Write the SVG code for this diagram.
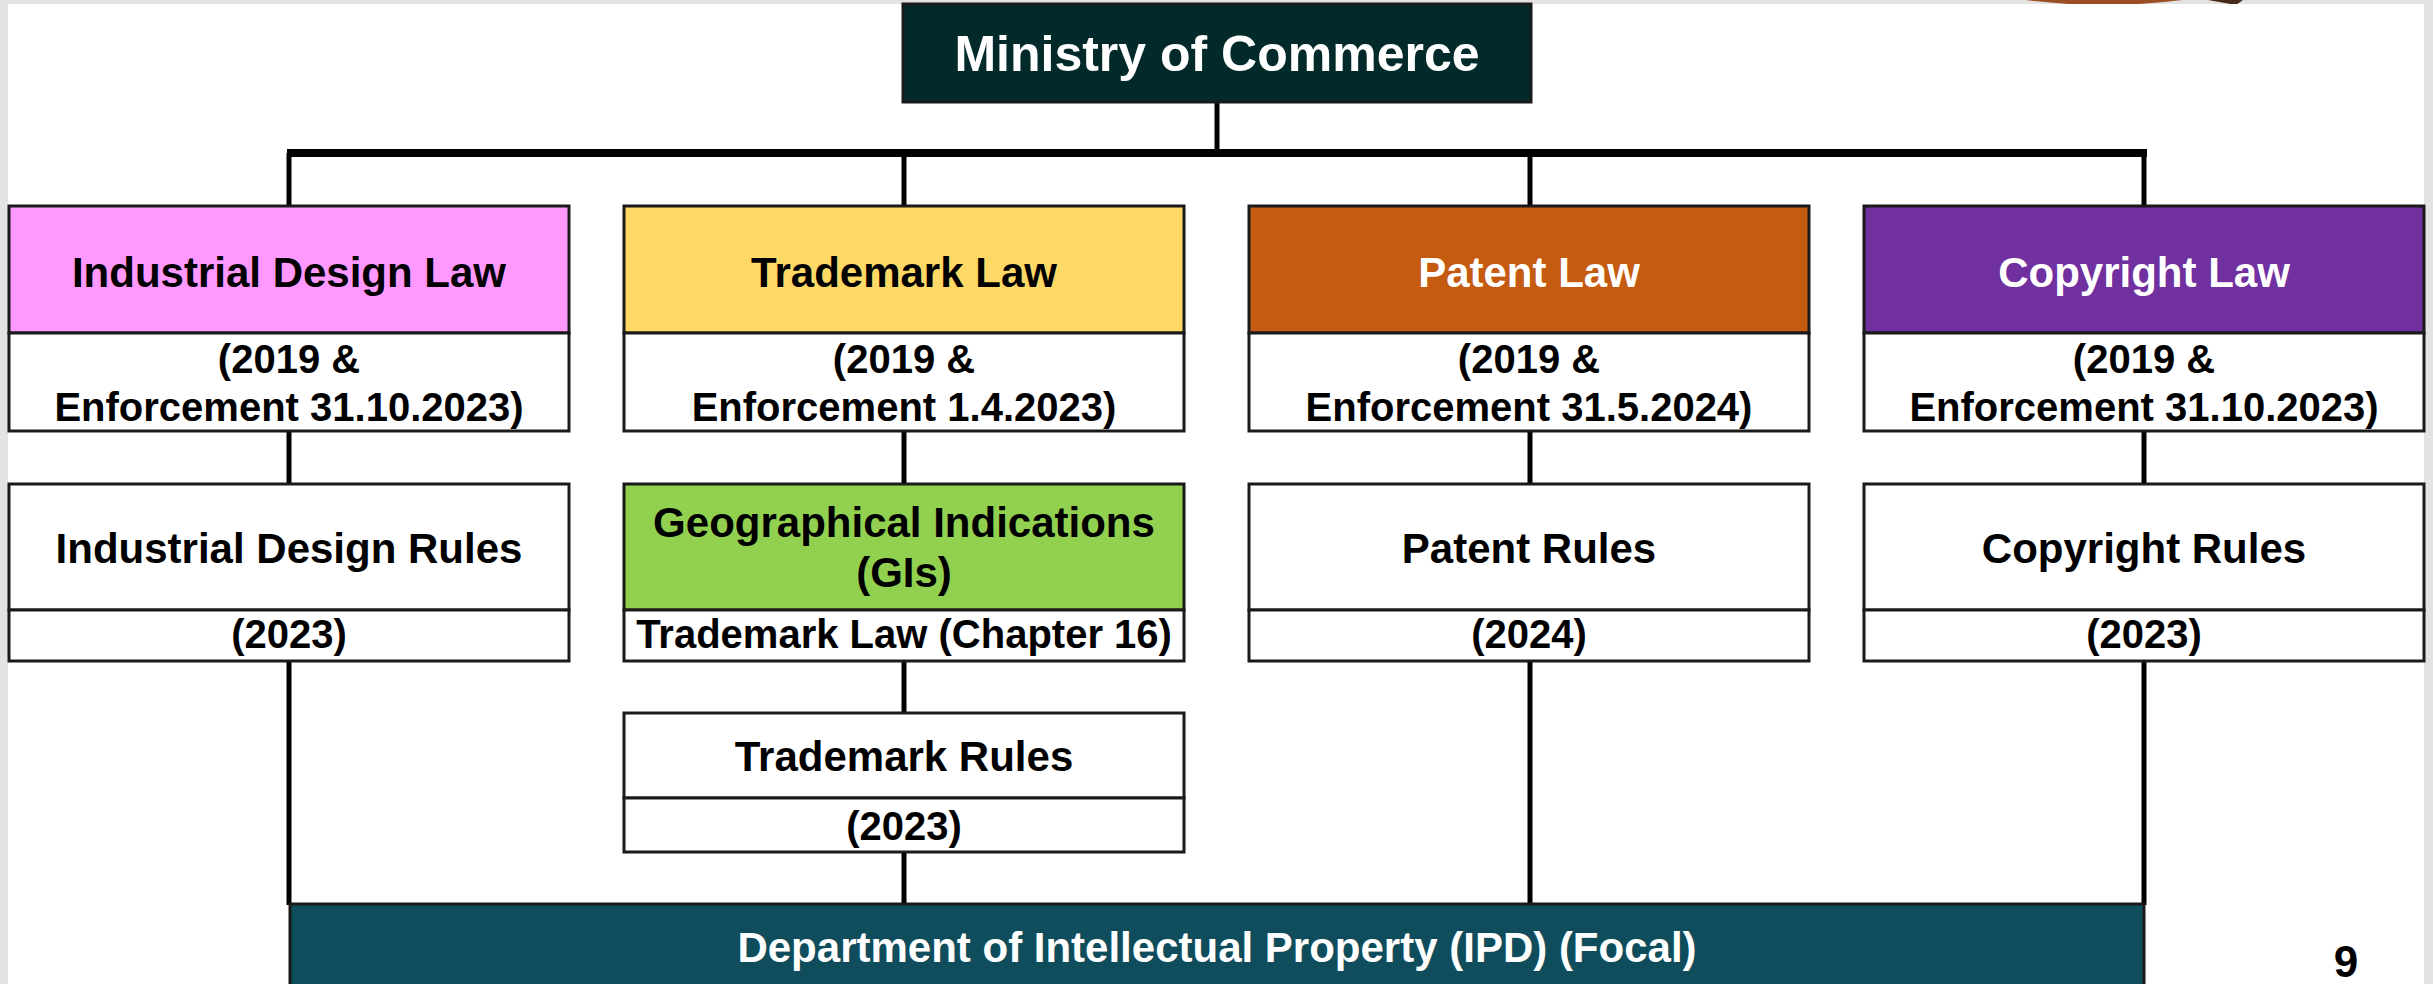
<svg xmlns="http://www.w3.org/2000/svg" width="2433" height="984" viewBox="0 0 2433 984">
<style>
text{font-family:"Liberation Sans",Arial,sans-serif;font-weight:bold;text-anchor:middle}
.h{font-size:42px}
.s{font-size:40px}
.box{stroke:#1a1a1a;stroke-width:3}
.ln{stroke:#000;stroke-width:5;fill:none}
.w{fill:#fff}
.k{fill:#000}
</style>
<rect x="0" y="0" width="2433" height="984" fill="#e3e3e3"/>
<path d="M2026 0 Q2104 10 2182 0 Z" fill="#9b4f22"/>
<path d="M2208 0 L2243 0 L2236 5 Z" fill="#4a2a18"/>
<rect x="8" y="4" width="2416" height="980" fill="#fff"/>
<g id="connectors">
<line class="ln" x1="1217" y1="102" x2="1217" y2="153"/>
<line x1="287" y1="153" x2="2147" y2="153" stroke="#000" stroke-width="8"/>
<line class="ln" x1="289" y1="153" x2="289" y2="206"/>
<line class="ln" x1="904" y1="153" x2="904" y2="206"/>
<line class="ln" x1="1530" y1="153" x2="1530" y2="206"/>
<line class="ln" x1="2144" y1="153" x2="2144" y2="206"/>
<line class="ln" x1="289" y1="431" x2="289" y2="484"/>
<line class="ln" x1="904" y1="431" x2="904" y2="484"/>
<line class="ln" x1="1530" y1="431" x2="1530" y2="484"/>
<line class="ln" x1="2144" y1="431" x2="2144" y2="484"/>
<line class="ln" x1="289" y1="661" x2="289" y2="905"/>
<line class="ln" x1="904" y1="661" x2="904" y2="713"/>
<line class="ln" x1="904" y1="852" x2="904" y2="905"/>
<line class="ln" x1="1530" y1="661" x2="1530" y2="905"/>
<line class="ln" x1="2144" y1="661" x2="2144" y2="905"/>
</g>
<g id="ministry">
<rect class="box" x="903" y="4" width="628" height="98" fill="#032a2a"/>
<text x="1217" y="71" font-size="50" class="w">Ministry of Commerce</text>
</g>
<g id="industrial-design-law">
<rect class="box" x="9" y="206" width="560" height="127" fill="#ff99ff"/>
<text class="h k" x="289" y="287">Industrial Design Law</text>
<rect class="box" x="9" y="333" width="560" height="98" fill="#fff"/>
<text class="s k" x="289" y="373">(2019 &amp;</text>
<text class="s k" x="289" y="421">Enforcement 31.10.2023)</text>
</g>
<g id="trademark-law">
<rect class="box" x="624" y="206" width="560" height="127" fill="#ffd966"/>
<text class="h k" x="904" y="287">Trademark Law</text>
<rect class="box" x="624" y="333" width="560" height="98" fill="#fff"/>
<text class="s k" x="904" y="373">(2019 &amp;</text>
<text class="s k" x="904" y="421">Enforcement 1.4.2023)</text>
</g>
<g id="patent-law">
<rect class="box" x="1249" y="206" width="560" height="127" fill="#c55a11"/>
<text class="h w" x="1529" y="287">Patent Law</text>
<rect class="box" x="1249" y="333" width="560" height="98" fill="#fff"/>
<text class="s k" x="1529" y="373">(2019 &amp;</text>
<text class="s k" x="1529" y="421">Enforcement 31.5.2024)</text>
</g>
<g id="copyright-law">
<rect class="box" x="1864" y="206" width="560" height="127" fill="#7030a0"/>
<text class="h w" x="2144" y="287">Copyright Law</text>
<rect class="box" x="1864" y="333" width="560" height="98" fill="#fff"/>
<text class="s k" x="2144" y="373">(2019 &amp;</text>
<text class="s k" x="2144" y="421">Enforcement 31.10.2023)</text>
</g>
<g id="industrial-design-rules">
<rect class="box" x="9" y="484" width="560" height="126" fill="#fff"/>
<text class="h k" x="289" y="563">Industrial Design Rules</text>
<rect class="box" x="9" y="610" width="560" height="51" fill="#fff"/>
<text class="s k" x="289" y="648">(2023)</text>
</g>
<g id="geographical-indications">
<rect class="box" x="624" y="484" width="560" height="126" fill="#92d050"/>
<text class="h k" x="904" y="537">Geographical Indications</text>
<text class="h k" x="904" y="587">(GIs)</text>
<rect class="box" x="624" y="610" width="560" height="51" fill="#fff"/>
<text class="s k" x="904" y="648">Trademark Law (Chapter 16)</text>
</g>
<g id="patent-rules">
<rect class="box" x="1249" y="484" width="560" height="126" fill="#fff"/>
<text class="h k" x="1529" y="563">Patent Rules</text>
<rect class="box" x="1249" y="610" width="560" height="51" fill="#fff"/>
<text class="s k" x="1529" y="648">(2024)</text>
</g>
<g id="copyright-rules">
<rect class="box" x="1864" y="484" width="560" height="126" fill="#fff"/>
<text class="h k" x="2144" y="563">Copyright Rules</text>
<rect class="box" x="1864" y="610" width="560" height="51" fill="#fff"/>
<text class="s k" x="2144" y="648">(2023)</text>
</g>
<g id="trademark-rules">
<rect class="box" x="624" y="713" width="560" height="85" fill="#fff"/>
<text class="h k" x="904" y="771">Trademark Rules</text>
<rect class="box" x="624" y="798" width="560" height="54" fill="#fff"/>
<text class="s k" x="904" y="840">(2023)</text>
</g>
<g id="department">
<rect class="box" x="290" y="904" width="1854" height="90" fill="#0f4d5c"/>
<text class="h w" x="1217" y="962">Department of Intellectual Property (IPD) (Focal)</text>
</g>
<text x="2346" y="977" font-size="44" class="k">9</text>
</svg>
